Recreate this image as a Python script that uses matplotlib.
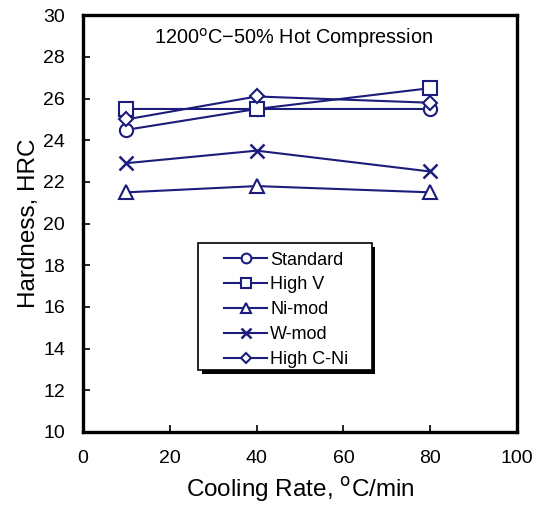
import matplotlib
matplotlib.use('Agg')
import matplotlib.pyplot as plt
from matplotlib.patches import Rectangle

plt.rcParams['font.family'] = ['Liberation Sans', 'DejaVu Sans']

cooling_rate = [10, 40, 80]
standard = [24.5, 25.5, 25.5]
high_v = [25.5, 25.5, 26.5]
ni_mod = [21.5, 21.8, 21.5]
w_mod = [22.9, 23.5, 22.5]
high_c_ni = [25.0, 26.1, 25.8]

series = [
    ('Standard', standard, 'o'),
    ('High V', high_v, 's'),
    ('Ni-mod', ni_mod, '^'),
    ('W-mod', w_mod, 'x'),
    ('High C-Ni', high_c_ni, 'D'),
]

navy = '#1c1c7c'

fig = plt.figure(figsize=(5.43, 5.07), dpi=100)
ax = fig.add_axes([0.153, 0.148, 0.799, 0.822])

for label, y, m in series:
    ms = 7 if m == 'D' else 9.5
    if m == 'x':
        ax.plot(cooling_rate, y, color=navy, lw=1.5, marker=m, ms=ms, mew=1.8, label=label)
    else:
        ax.plot(cooling_rate, y, color=navy, lw=1.5, marker=m, ms=ms, mew=1.5,
                mfc='white', mec=navy, label=label)

ax.set_xlim(0, 100)
ax.set_ylim(10, 30)
ax.set_xticks(range(0, 101, 20))
ax.set_yticks(range(10, 31, 2))
ax.tick_params(direction='in', length=5, width=1.2, labelsize=14, pad=13, top=False, right=False)
for s in ax.spines.values():
    s.set_linewidth(2.4)

ax.set_xlabel('Cooling Rate, $^{\\mathrm{o}}$C/min', fontsize=17.5, labelpad=6)
ax.set_ylabel('Hardness, HRC', fontsize=17.5, labelpad=2)
ax.text(0.484, 0.945, '1200$^{\\mathrm{o}}$C\u221250% Hot Compression', transform=ax.transAxes,
        ha='center', va='center', fontsize=14.3)

# legend frame with a dark drop shadow, as in the original
x0, y0, w, h = 0.265, 0.149, 0.40, 0.304
ax.add_patch(Rectangle((x0 + 0.009, y0 - 0.01), w, h, transform=ax.transAxes,
                       facecolor='black', edgecolor='none', zorder=4))
ax.add_patch(Rectangle((x0, y0), w, h, transform=ax.transAxes,
                       facecolor='white', edgecolor='black', lw=1.2, zorder=5))

leg = ax.legend(loc='upper left', bbox_to_anchor=(0.325, 0.433), fontsize=13, frameon=False,
                handlelength=2.4, labelspacing=0.44, handletextpad=0.15, borderpad=0,
                borderaxespad=0)
leg.set_zorder(6)
for hd in leg.legend_handles:
    hd.set_markersize(5.5 if hd.get_marker() == 'D' else 7)

fig.savefig('out.png', dpi=100)
